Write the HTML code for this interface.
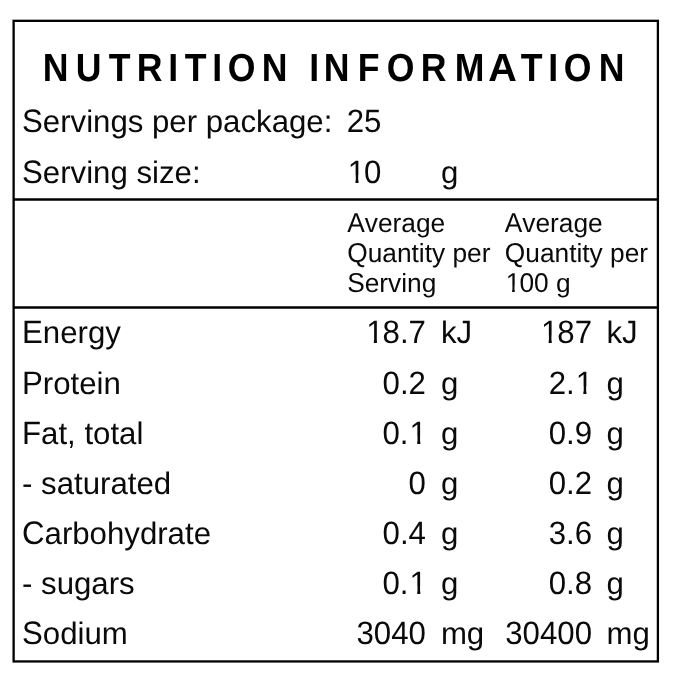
<!DOCTYPE html>
<html><head><meta charset="utf-8"><title>Nutrition Information</title>
<style>
html,body{margin:0;padding:0;background:#fff;}
body{width:674px;height:679px;position:relative;overflow:hidden;font-family:"Liberation Sans",sans-serif;color:#0a0a0a;text-rendering:geometricPrecision;}
#w{position:absolute;left:0;top:0;width:674px;height:679px;will-change:transform;}
.t{position:absolute;white-space:nowrap;font-size:31.2px;line-height:31.2px;}
.r{text-align:right;}
.c{display:inline-block;transform:scaleY(1.04);transform-origin:0 84.65%;}
.d{display:inline-block;transform:scaleY(1.035);transform-origin:0 84.65%;}
.o{display:inline-block;transform:translateX(0.033em);clip-path:polygon(0 0,100% 0,100% 0.5965em,0.345em 0.5965em,0.345em 100%,0.246em 100%,0.246em 0.5965em,0 0.5965em);}
.title{position:absolute;left:0;margin:0;width:674px;height:37.7px;font-weight:bold;font-size:37.7px;line-height:37.7px;}
.tl{position:absolute;top:0;display:block;font-weight:bold;font-size:37.7px;line-height:37.7px;color:#000;text-align:center;transform:scale(0.945,1.04);transform-origin:50% 84.65%;}
.h{font-size:26.3px;line-height:26.3px;}
</style></head><body>
<svg width="674" height="679" viewBox="0 0 674 679" style="position:absolute;left:0;top:0">
<rect x="13.62" y="20.82" width="644.28" height="640.62" fill="none" stroke="#000" stroke-width="2.3"/>
<line x1="13" y1="199.6" x2="658" y2="199.6" stroke="#000" stroke-width="2.5"/>
<line x1="13" y1="307.6" x2="658" y2="307.6" stroke="#000" stroke-width="2.5"/>
</svg>
<div id="w">

<h1 class="title" style="top:49.59px;">
<span class="tl" style="left:42.00px;width:27.23px;">N</span><span class="tl" style="left:74.51px;width:27.23px;">U</span><span class="tl" style="left:107.68px;width:23.03px;">T</span><span class="tl" style="left:135.71px;width:27.23px;">R</span><span class="tl" style="left:167.76px;width:10.47px;">I</span><span class="tl" style="left:183.73px;width:23.03px;">T</span><span class="tl" style="left:211.86px;width:10.47px;">I</span><span class="tl" style="left:226.76px;width:29.32px;">O</span><span class="tl" style="left:261.15px;width:27.23px;">N</span> <span class="tl" style="left:309.16px;width:10.47px;">I</span><span class="tl" style="left:323.35px;width:27.23px;">N</span><span class="tl" style="left:356.57px;width:23.03px;">F</span><span class="tl" style="left:385.86px;width:29.32px;">O</span><span class="tl" style="left:419.91px;width:27.23px;">R</span><span class="tl" style="left:453.50px;width:31.40px;">M</span><span class="tl" style="left:489.01px;width:27.23px; transform:scale(1.05,1.04);">A</span><span class="tl" style="left:520.18px;width:23.03px;">T</span><span class="tl" style="left:547.66px;width:10.47px;">I</span><span class="tl" style="left:562.66px;width:29.32px;">O</span><span class="tl" style="left:597.90px;width:27.23px;">N</span>
</h1>
<div class="t " style="left:22.00px;top:105.59px;"><span class="c">S</span>ervings per package:</div>
<div class="t " style="left:346.75px;top:105.59px;"><span class="d">25</span></div>
<div class="t " style="left:22.00px;top:156.59px;"><span class="c">S</span>erving size:</div>
<div class="t " style="left:346.75px;top:156.59px;"><span class="d"><span class="o">1</span>0</span></div>
<div class="t " style="left:440.90px;top:156.59px;">g</div>
<div class="t h" style="left:347.20px;top:209.74px;"><span class="c">A</span>verage</div>
<div class="t h" style="left:347.20px;top:239.74px;"><span class="c">Q</span>uantity per</div>
<div class="t h" style="left:347.20px;top:269.74px;"><span class="c">S</span>erving</div>
<div class="t h" style="left:504.80px;top:209.74px;"><span class="c">A</span>verage</div>
<div class="t h" style="left:504.80px;top:239.74px;"><span class="c">Q</span>uantity per</div>
<div class="t h" style="left:504.80px;top:269.74px;"><span class="d"><span class="o">1</span>00</span> g</div>
<div class="t " style="left:22.00px;top:317.49px;"><span class="c">E</span>nergy</div>
<div class="t r" style="left:225.90px;width:200px;top:317.49px;"><span class="d"><span class="o">1</span>8.7</span></div>
<div class="t " style="left:440.90px;top:317.49px;">k<span class="c">J</span></div>
<div class="t r" style="left:392.00px;width:200px;top:317.49px;"><span class="d"><span class="o">1</span>87</span></div>
<div class="t " style="left:606.45px;top:317.49px;">k<span class="c">J</span></div>
<div class="t " style="left:22.00px;top:367.52px;"><span class="c">P</span>rotein</div>
<div class="t r" style="left:225.90px;width:200px;top:367.52px;"><span class="d">0.2</span></div>
<div class="t " style="left:440.90px;top:367.52px;">g</div>
<div class="t r" style="left:392.00px;width:200px;top:367.52px;"><span class="d">2.<span class="o">1</span></span></div>
<div class="t " style="left:606.45px;top:367.52px;">g</div>
<div class="t " style="left:22.00px;top:417.55px;"><span class="c">F</span>at, total</div>
<div class="t r" style="left:225.90px;width:200px;top:417.55px;"><span class="d">0.<span class="o">1</span></span></div>
<div class="t " style="left:440.90px;top:417.55px;">g</div>
<div class="t r" style="left:392.00px;width:200px;top:417.55px;"><span class="d">0.9</span></div>
<div class="t " style="left:606.45px;top:417.55px;">g</div>
<div class="t " style="left:22.00px;top:467.58px;">- saturated</div>
<div class="t r" style="left:225.90px;width:200px;top:467.58px;"><span class="d">0</span></div>
<div class="t " style="left:440.90px;top:467.58px;">g</div>
<div class="t r" style="left:392.00px;width:200px;top:467.58px;"><span class="d">0.2</span></div>
<div class="t " style="left:606.45px;top:467.58px;">g</div>
<div class="t " style="left:22.00px;top:517.61px;"><span class="c">C</span>arbohydrate</div>
<div class="t r" style="left:225.90px;width:200px;top:517.61px;"><span class="d">0.4</span></div>
<div class="t " style="left:440.90px;top:517.61px;">g</div>
<div class="t r" style="left:392.00px;width:200px;top:517.61px;"><span class="d">3.6</span></div>
<div class="t " style="left:606.45px;top:517.61px;">g</div>
<div class="t " style="left:22.00px;top:567.64px;">- sugars</div>
<div class="t r" style="left:225.90px;width:200px;top:567.64px;"><span class="d">0.<span class="o">1</span></span></div>
<div class="t " style="left:440.90px;top:567.64px;">g</div>
<div class="t r" style="left:392.00px;width:200px;top:567.64px;"><span class="d">0.8</span></div>
<div class="t " style="left:606.45px;top:567.64px;">g</div>
<div class="t " style="left:22.00px;top:617.67px;"><span class="c">S</span>odium</div>
<div class="t r" style="left:225.90px;width:200px;top:617.67px;"><span class="d">3040</span></div>
<div class="t " style="left:440.90px;top:617.67px;">mg</div>
<div class="t r" style="left:392.00px;width:200px;top:617.67px;"><span class="d">30400</span></div>
<div class="t " style="left:606.45px;top:617.67px;">mg</div>
</div>
</body></html>
